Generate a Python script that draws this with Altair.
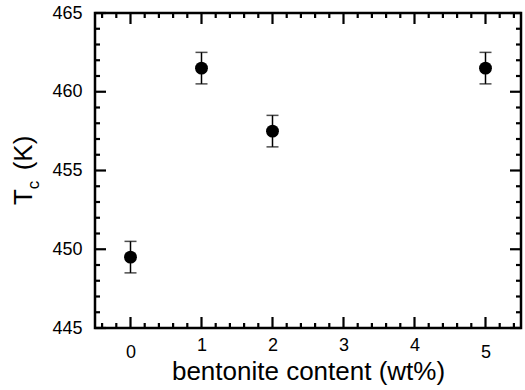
import altair as alt
import pandas as pd

# data
content = [0, 1, 2, 5]
tc = [449.5, 461.5, 457.5, 461.5]
err = [1.0, 1.0, 1.0, 1.0]

x_major = [0, 1, 2, 3, 4, 5]
x_minor = [-0.4, -0.2, 0.2, 0.4, 0.6, 0.8, 1.2, 1.4, 1.6, 1.8, 2.2, 2.4, 2.6, 2.8,
           3.2, 3.4, 3.6, 3.8, 4.2, 4.4, 4.6, 4.8, 5.2, 5.4]
y_major = [445, 450, 455, 460, 465]
y_minor = [446, 447, 448, 449, 451, 452, 453, 454, 456, 457, 458, 459,
           461, 462, 463, 464]

W, H = 426, 315
MAJ, MIN = 11, 5
FONT = "Liberation Sans"

df = pd.DataFrame({"content": content, "tc": tc, "err": err})
df["lo"] = df["tc"] - df["err"]
df["hi"] = df["tc"] + df["err"]

xs = alt.Scale(domain=[-0.5, 5.5], nice=False, zero=False)
ys = alt.Scale(domain=[445, 465], nice=False, zero=False)

xaxis = alt.Axis(values=x_major, ticks=False, tickSize=0, domain=False, grid=False,
                 labelFontSize=18, labelFont=FONT, labelColor="black",
                 labelPadding={"condition": {"test": "datum.value >= 1 && datum.value <= 4",
                                             "value": 8},
                               "value": 15},
                 title="bentonite content (wt%)", titleFont=FONT, titleFontSize=26,
                 titleFontWeight="normal", titleColor="black",
                 titleBaseline="alphabetic", titleY=51)
yaxis = alt.Axis(values=y_major, ticks=False, tickSize=0, domain=False, grid=False,
                 labelFontSize=18, labelFont=FONT, labelColor="black", labelPadding=13,
                 title="")

base = alt.Chart(df)

bars = base.mark_rule(color="black", strokeWidth=1.5).encode(
    x=alt.X("content:Q", scale=xs, axis=xaxis, title="bentonite content (wt%)"),
    y=alt.Y("lo:Q", scale=ys, axis=yaxis, title=""),
    y2="hi:Q",
)
cap_lo = base.mark_tick(color="black", orient="horizontal", size=12, thickness=1.5).encode(
    x=alt.X("content:Q", scale=xs, axis=xaxis), y=alt.Y("lo:Q", scale=ys, axis=yaxis))
cap_hi = base.mark_tick(color="black", orient="horizontal", size=12, thickness=1.5).encode(
    x=alt.X("content:Q", scale=xs, axis=xaxis), y=alt.Y("hi:Q", scale=ys, axis=yaxis))
pts = base.mark_circle(color="black", size=165, opacity=1).encode(
    x=alt.X("content:Q", scale=xs, axis=xaxis), y=alt.Y("tc:Q", scale=ys, axis=yaxis))


def xticks(vals, length):
    d = pd.DataFrame({"content": vals})
    bottom = alt.Chart(d).mark_rule(color="black", strokeWidth=2.2).encode(
        x=alt.X("content:Q", scale=xs, axis=xaxis), y=alt.value(H), y2=alt.value(H - length))
    top = alt.Chart(d).mark_rule(color="black", strokeWidth=2.2).encode(
        x=alt.X("content:Q", scale=xs, axis=xaxis), y=alt.value(0), y2=alt.value(length))
    return [bottom, top]


def yticks(vals, length):
    d = pd.DataFrame({"tc": vals})
    left = alt.Chart(d).mark_rule(color="black", strokeWidth=2.2).encode(
        y=alt.Y("tc:Q", scale=ys, axis=yaxis), x=alt.value(0), x2=alt.value(length))
    right = alt.Chart(d).mark_rule(color="black", strokeWidth=2.2).encode(
        y=alt.Y("tc:Q", scale=ys, axis=yaxis), x=alt.value(W), x2=alt.value(W - length))
    return [left, right]


tick_layers = xticks(x_major, MAJ) + xticks(x_minor, MIN) + yticks(y_major, MAJ) + yticks(y_minor, MIN)

# y title with subscript
t_main = alt.Chart(pd.DataFrame({"s": ["T"]})).mark_text(
    angle=270, align="center", baseline="alphabetic", font=FONT, fontSize=26, color="black"
).encode(x=alt.value(-63), y=alt.value(184), text="s:N")
t_sub = alt.Chart(pd.DataFrame({"s": ["c"]})).mark_text(
    angle=270, align="center", baseline="alphabetic", font=FONT, fontSize=17, color="black"
).encode(x=alt.value(-56), y=alt.value(172), text="s:N")
t_unit = alt.Chart(pd.DataFrame({"s": ["(K)"]})).mark_text(
    angle=270, align="center", baseline="alphabetic", font=FONT, fontSize=26, color="black"
).encode(x=alt.value(-63), y=alt.value(140), text="s:N")

chart = alt.layer(bars, cap_lo, cap_hi, pts, *tick_layers, t_main, t_sub, t_unit).properties(
    width=W, height=H,
    autosize=alt.AutoSizeParams(type="none"),
    padding={"left": 95, "top": 13, "right": 4, "bottom": 62},
    background="white",
).configure_view(stroke="black", strokeWidth=2.5)

chart.save("out.html", embed_options={"renderer": "svg", "actions": False})
